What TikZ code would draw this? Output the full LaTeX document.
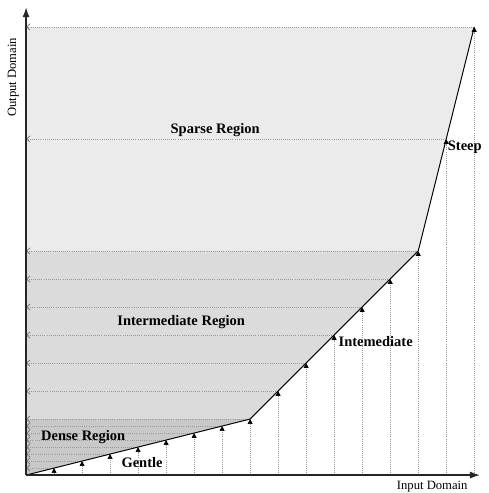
\documentclass[tikz,border=0pt]{standalone}
\usepackage{fontspec}
\setmainfont{Liberation Serif}
\usetikzlibrary{arrows.meta,positioning}

\begin{document}
\begin{tikzpicture}[x=0.7cm, y=0.7cm, every node/.style={font=\normalsize},
    guide/.style={gray!80, densely dotted, line width=0.5pt},
    axis/.style={line width=0.9pt, black!85, -{Latex[length=7pt,width=5pt]}},
    label/.style={font=\fontsize{10.3}{12}\selectfont\bfseries}]
    \useasboundingbox (-0.93,-0.64) rectangle (16.5,16.96);
    % corner points of the mapping curve
    \coordinate (o) at (0,0);
    \coordinate (g) at (8,2);
    \coordinate (m) at (14,8);
    \coordinate (s) at (16,16);
    \coordinate (top) at (0,16.7);
    \coordinate (right) at (16.2,0);
    % regions
    \fill[gray!16] (0,8) -- (m) -- (s) -- (0,16) -- cycle;
    \fill[gray!28] (0,2) -- (g) -- (m) -- (0,8) -- cycle;
    \fill[gray!42] (o) -- (g) -- (0,2) -- cycle;
    % guides from input to curve and from curve to output
    \foreach \x/\y in {1/0.25,2/0.5,3/0.75,4/1,5/1.25,6/1.5,7/1.75,8/2,9/3,10/4,11/5,12/6,13/7,14/8,15/12,16/16} {
        \coordinate (p\x) at (\x,\y);
        \coordinate (b\x) at (\x,0);
        \coordinate (l\x) at (0,\y);
        \draw[guide, -{Triangle[length=3.5pt,width=3.5pt,black]}] (b\x) -- (p\x);
        \draw[guide, -{Straight Barb[length=2.5pt,width=4.5pt,gray!90!black,line width=0.5pt]}] (p\x) -- (l\x);
    }
    % curve and axes
    \draw[line width=0.7pt] (o) -- (g) -- (m) -- (s);
    \draw[axis] (o) -- (top);
    \draw[axis] (o) -- (right);
    % labels
    \node[label] (sparse) at (6.75,12.3) {Sparse Region};
    \node[label] (inter) at (5.54,5.46) {Intermediate Region};
    \node[label] (dense) at (2.04,1.36) {Dense Region};
    \node[label] (gentle) at (4.14,0.46) {Gentle};
    \node[label, anchor=north west, inner sep=1pt, xshift=2pt] (intem) at (p11) {Intemediate};
    \node[label, anchor=north west, inner sep=1pt] (steep) at (p15) {Steep};
    \node[font=\small] (in) at (14.5,-0.4) {Input Domain};
    \node[font=\small, rotate=90] (out) at (-0.46,14.2) {Output Domain};
\end{tikzpicture}
\end{document}
